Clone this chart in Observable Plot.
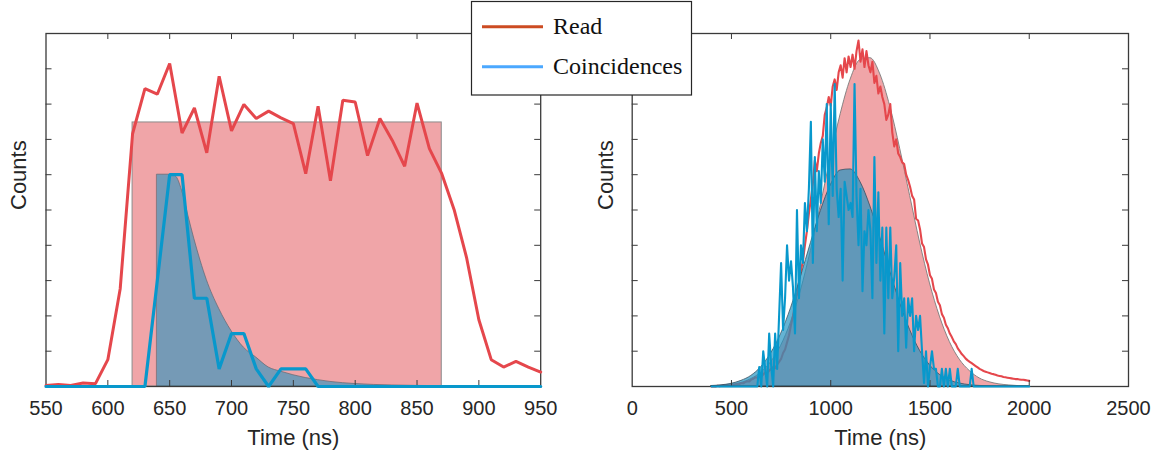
<!DOCTYPE html>
<html><head><meta charset="utf-8">
<script src="https://cdn.jsdelivr.net/npm/d3@7"></script>
<script src="https://cdn.jsdelivr.net/npm/@observablehq/plot@0.6"></script>
<style>
body{margin:0;background:#fff;}
#wrap{position:relative;width:1161px;height:455px;overflow:hidden;background:#fff;}
.panel{position:absolute;top:0;}
#legend{position:absolute;left:470px;top:0px;}
</style></head><body>
<div id="wrap">
  <div id="left" class="panel" style="left:0px"></div>
  <div id="right" class="panel" style="left:580px"></div>
  <svg id="legend" width="224" height="97"></svg>
</div>
<script>
// ---------- data ----------
const seriesNames = ["Read", "Coincidences"];
// left panel (10 ns bins)
const leftTimes = d3.range(550, 951, 10);
const leftRead = [0.03,0.06,0.03,0.10,0.08,0.76,2.77,7.16,8.44,8.28,
  9.15,7.18,7.89,6.62,8.79,7.24,7.99,7.59,7.80,7.61,
  7.45,6.03,7.94,5.83,8.11,8.06,6.54,7.59,6.97,6.24,
  8.03,6.74,6.03,5.01,3.66,1.89,0.76,0.55,0.71,0.55,0.41];
const leftCoinc = [0,0,0,0,0,0,0,0,0,
  3.0,6.0,6.0,2.5,2.5,0.5,1.5,1.5,0.5,0,0.5,0.5,0.5,0,
  0,0,0,0,0,0,0,0,0,0,0,0,0,0,0,0,0,0];
const readWindow = [620, 870];
const readLevel = 7.48;
const decayTimes = [640,650,655,660,665,670,675,680,690,700,710,720,730,740,750,760,770,780,800,830,870];
const decayCounts = [6.0,6.0,5.95,5.55,4.85,4.17,3.56,3.02,2.2,1.57,1.1,0.82,0.54,0.42,0.32,0.24,0.18,0.13,0.07,0.03,0.01];
// right panel (10 ns bins)
const rightTimes = d3.range(400, 2001, 10);
const rightRead = [
  0.00,0.01,0.00,0.02,0.01,0.02,0.03,0.02,0.04,0.03,
  0.05,0.04,0.06,0.08,0.07,0.10,0.09,0.13,0.15,0.14,
  0.20,0.22,0.26,0.25,0.30,0.28,0.34,0.40,0.38,0.45,
  0.50,0.55,0.52,0.62,0.70,0.78,0.95,1.05,1.25,1.45,
  1.75,2.00,2.35,2.60,2.95,3.30,3.55,4.00,4.40,4.90,
  5.30,5.75,6.40,6.10,6.60,6.90,7.10,7.70,7.90,8.20,
  7.95,8.50,8.70,8.40,8.90,9.10,8.75,9.30,8.90,9.35,
  9.05,9.40,9.00,9.50,9.80,9.20,9.55,9.05,9.50,9.10,
  8.90,9.20,8.60,8.80,8.30,8.50,8.20,8.00,7.55,7.70,
  8.00,7.20,6.80,7.00,6.60,6.50,6.35,6.30,6.00,5.85,
  5.65,5.40,5.30,4.75,4.70,4.45,4.05,3.95,3.60,3.45,
  3.15,3.05,2.75,2.65,2.40,2.30,2.05,1.95,1.75,1.65,
  1.50,1.40,1.28,1.20,1.08,1.00,0.92,0.86,0.79,0.74,
  0.70,0.66,0.62,0.58,0.54,0.50,0.47,0.44,0.42,0.40,
  0.38,0.36,0.35,0.33,0.31,0.30,0.29,0.27,0.26,0.25,
  0.24,0.23,0.22,0.21,0.21,0.20,0.19,0.19,0.18,0.17,
  0.16];
const rightCoinc = [
  0,0,0,0,0,0,0,0,0,0,
  0,0,0,0,0,0,0,0,0,0,
  0,0,0,0,0.55,0,1.0,0.5,0,1.5,
  0.6,0,1.5,0.5,2.0,3.5,1.6,2.5,4.0,3.0,
  3.55,2.8,1.5,5.0,2.5,4.0,3.5,5.2,4.4,5.6,
  7.5,3.5,6.5,4.4,6.1,5.2,7.0,5.8,8.0,4.6,
  8.0,5.4,8.57,5.6,4.8,5.6,3.0,5.8,5.4,5.0,
  5.2,4.8,8.57,5.4,4.0,5.6,2.7,4.4,4.0,5.0,
  4.4,2.5,6.5,3.5,5.5,3.0,4.5,1.5,4.5,2.5,
  4.5,2.5,3.1,4.0,1.0,3.5,2.0,2.5,1.1,2.5,
  2.0,2.5,1.0,2.0,1.6,2.0,1.0,0.1,1.0,0,
  0.55,1.0,0.5,0.5,0,0,0.5,0,0.5,0,
  0.5,0,0,0,0.5,0,0,0,0,0,
  0,0.5,0,0,0,0,0,0,0,0,
  0,0,0,0,0,0,0,0,0,0,
  0,0,0,0,0,0,0,0,0,0,
  0];
const fitTimes = d3.range(400, 2001, 50);
const readFit = [0.01,0.02,0.05,0.10,0.21,0.39,0.69,1.15,1.82,2.72,3.84,5.13,6.47,7.71,8.69,9.25,9.30,8.84,7.93,6.73,5.40,4.08,2.92,1.98,1.26,0.76,0.44,0.23,0.12,0.06,0.03,0.01,0.005];
const coincFit = [0.014,0.034,0.075,0.16,0.30,0.55,0.94,1.49,2.22,3.11,4.06,4.97,5.70,6.12,6.15,5.79,5.10,4.21,3.26,2.36,1.60,1.01,0.60,0.33,0.17,0.085,0.039,0.016,0.006,0.002,0.001,0,0];
// axes
const leftXTicks = [550,600,650,700,750,800,850,900,950];
const rightXTicks = [0,500,1000,1500,2000,2500];
const yTicks = [1,2,3,4,5,6,7,8,9];
const xLabel = "Time (ns)";
const yLabel = "Counts";

// ---------- styles ----------
const RED_LINE = "#e5474c", BLUE_LINE = "#0898cc";
const RED_FILL = "#f0a5a8", BLUE_FILL = "#2393c0";
const AXIS = "#3a3a3a", TEXT = "#262626";
const FONT = "'Liberation Sans', Arial, Helvetica, sans-serif";
const H = 455, MT = 33, MB = 69;
const pts = (xs, ys) => xs.map((x, i) => ({x, y: ys[i]}));

function axesMarks(xTicks, plotW, yTitleDx) {
  const plotH = H - MT - MB, tl = 6;
  const inner = xTicks.slice(1, -1);
  return [
    Plot.tickX(inner, {x: d => d, insetTop: plotH - tl, stroke: AXIS, strokeWidth: 1}),
    Plot.tickX(inner, {x: d => d, insetBottom: plotH - tl, stroke: AXIS, strokeWidth: 1}),
    Plot.tickY(yTicks, {y: d => d, insetRight: plotW - tl, stroke: AXIS, strokeWidth: 1}),
    Plot.tickY(yTicks, {y: d => d, insetLeft: plotW - tl, stroke: AXIS, strokeWidth: 1}),
    Plot.frame({stroke: AXIS, strokeWidth: 1.3}),
    Plot.text(xTicks, {x: d => d, text: d => String(d), frameAnchor: "bottom", dy: 22, lineAnchor: "middle", fontSize: 20, fontFamily: FONT, fill: TEXT}),
    Plot.text([xLabel], {text: d => d, frameAnchor: "bottom", dy: 51, lineAnchor: "middle", fontSize: 22, fontFamily: FONT, fill: TEXT}),
    Plot.text([yLabel], {text: d => d, frameAnchor: "left", dx: yTitleDx, rotate: -90, lineAnchor: "middle", fontSize: 22, fontFamily: FONT, fill: TEXT})
  ];
}

// ---------- left panel ----------
{
  const W = 560, ML = 45.5, MR = 19.8;
  const plot = Plot.plot({
    width: W, height: H, marginLeft: ML, marginRight: MR, marginTop: MT, marginBottom: MB,
    style: {background: "transparent", fontFamily: FONT, overflow: "visible"},
    x: {domain: [550, 950], axis: null},
    y: {domain: [0, 10], axis: null},
    marks: [
      Plot.rectY([{x1: readWindow[0], x2: readWindow[1], y: readLevel}], {x1: "x1", x2: "x2", y: "y", fill: RED_FILL, stroke: "#8c8c8c", strokeWidth: 1}),
      Plot.areaY(pts(decayTimes, decayCounts), {x: "x", y: "y", curve: "monotone-x", fill: BLUE_FILL, fillOpacity: 0.6, stroke: "#5f6670", strokeOpacity: 0.7, strokeWidth: 1}),
      ...axesMarks(leftXTicks, W - ML - MR, -27.5),
      Plot.line(pts(leftTimes, leftRead), {x: "x", y: "y", stroke: RED_LINE, strokeWidth: 3, strokeLinejoin: "miter"}),
      Plot.line(pts(leftTimes, leftCoinc), {x: "x", y: "y", stroke: BLUE_LINE, strokeWidth: 3.2, strokeLinejoin: "miter"})
    ]
  });
  document.getElementById("left").append(plot);
}

// ---------- right panel ----------
{
  const W = 581, ML = 51.7, MR = 33;
  const plot = Plot.plot({
    width: W, height: H, marginLeft: ML, marginRight: MR, marginTop: MT, marginBottom: MB,
    style: {background: "transparent", fontFamily: FONT, overflow: "visible"},
    x: {domain: [0, 2500], axis: null},
    y: {domain: [0, 10], axis: null},
    marks: [
      Plot.areaY(pts(fitTimes, readFit), {x: "x", y: "y", curve: "monotone-x", fill: RED_FILL, stroke: "#7a7a7a", strokeWidth: 0.9}),
      Plot.line(pts(rightTimes, rightRead), {x: "x", y: "y", stroke: RED_LINE, strokeWidth: 2.1}),
      Plot.areaY(pts(fitTimes, coincFit), {x: "x", y: "y", curve: "monotone-x", fill: BLUE_FILL, fillOpacity: 0.7, stroke: "#2e4656", strokeOpacity: 0.8, strokeWidth: 0.9}),
      ...axesMarks(rightXTicks, W - ML - MR, -26.7),
      Plot.line(pts(rightTimes, rightCoinc), {x: "x", y: "y", stroke: BLUE_LINE, strokeWidth: 2.1})
    ]
  });
  document.getElementById("right").append(plot);
}

// ---------- legend ----------
{
  const svg = d3.select("#legend");
  svg.append("rect").attr("x", 1.5).attr("y", 1.5).attr("width", 220).attr("height", 93.5)
    .attr("fill", "#fff").attr("stroke", "#262626").attr("stroke-width", 1.2);
  const colors = ["#cc4b22", "#4ba8ff"];
  seriesNames.forEach((name, i) => {
    const y = 26.7 + i * 40;
    svg.append("line").attr("x1", 12).attr("x2", 73).attr("y1", y).attr("y2", y)
      .attr("stroke", colors[i]).attr("stroke-width", 3);
    svg.append("text").attr("x", 83).attr("y", y + 7.5).text(name)
      .attr("font-family", "'Liberation Serif', 'Times New Roman', serif").attr("font-size", 24).attr("fill", "#111");
  });
}
</script>
</body></html>
